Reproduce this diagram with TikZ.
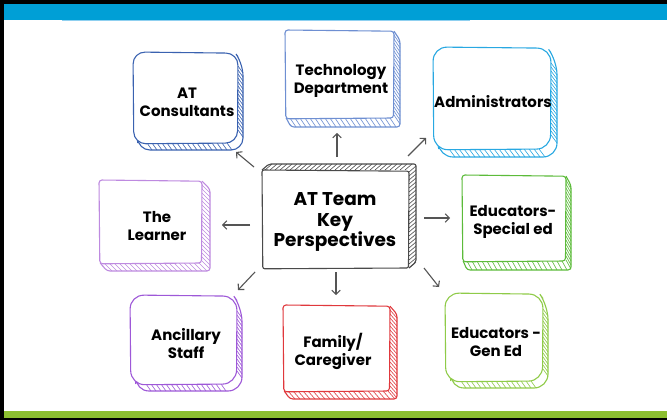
\documentclass[tikz,border=0pt]{standalone}
\usepackage{fontspec}
\setmainfont{Poppins}
\usetikzlibrary{arrows.meta}
\definecolor{topblue}{HTML}{009FD6}
\definecolor{botgreen}{HTML}{8CBF30}
\definecolor{thinblue}{HTML}{8FD0F0}
\definecolor{cConsult}{HTML}{3A62B0}
\definecolor{cTech}{HTML}{6E8FD2}
\definecolor{cAdmin}{HTML}{28A8E2}
\definecolor{cLearner}{HTML}{BE8AE0}
\definecolor{cCenter}{HTML}{4A4A4A}
\definecolor{cSpecial}{HTML}{5CBB3A}
\definecolor{cAncil}{HTML}{9E58D8}
\definecolor{cFamily}{HTML}{E0383C}
\definecolor{cGen}{HTML}{8FCB48}
\definecolor{arrowgray}{HTML}{555555}
% front face, slightly hand-drawn
\newcommand\frontface[5]{%
  \filldraw[fill=white] (#1,#2) -- (#3,#2+1.2) -- (#3-0.5,#4) -- (#1+0.8,#4+0.8) -- cycle;}
% band to the right and below
% #1 colour, #2 x1, #3 y1, #4 x2, #5 y2, #6 dx, #7 dy, #8 corner radius
\newcommand\sketchcard[8]{%
  \begin{scope}[draw=#1, line width=1.1pt, rounded corners=#8]
    \filldraw[fill=white] (#4,#3+#8*0.4) -- (#4+#6,#3+#8*0.4+#7) -- (#4+#6,#5+#7) -- (#2+#6,#5+#7) -- (#2+#8*0.4,#5);
    \pgfmathsetmacro\hya{#3+#8+2}\pgfmathsetmacro\hyb{#3+#8+6}\pgfmathsetmacro\hyc{#5-#8+2}
    \foreach \t in {\hya,\hyb,...,\hyc} \draw[line width=0.6pt] (#4,\t) -- ++(#6,#7);
    \pgfmathsetmacro\hxa{#2+#8+2}\pgfmathsetmacro\hxb{#2+#8+7}\pgfmathsetmacro\hxc{#4-#8+2}
    \foreach \s in {\hxa,\hxb,...,\hxc} \draw[line width=0.6pt] (\s,#5) -- ++(#6,#7);
    \frontface{#2}{#3}{#4}{#5}{}
  \end{scope}}
% band to the right and above
\newcommand\sketchcardup[8]{%
  \begin{scope}[draw=#1, line width=1.1pt, rounded corners=#8]
    \filldraw[fill=white] (#2,#3) -- (#2+#6,#3+#7) -- (#4+#6,#3+#7) -- (#4+#6,#5+#7) -- (#4,#5);
    \pgfmathsetmacro\hya{#3+2}\pgfmathsetmacro\hyb{#3+6}\pgfmathsetmacro\hyc{#5}
    \foreach \t in {\hya,\hyb,...,\hyc} \draw[line width=0.6pt] (#4,\t) -- ++(#6,#7);
    \pgfmathsetmacro\hxa{#2+3}\pgfmathsetmacro\hxb{#2+8}\pgfmathsetmacro\hxc{#4}
    \foreach \s in {\hxa,\hxb,...,\hxc} \draw[line width=0.6pt] (\s,#3) -- ++(#6,#7);
    \frontface{#2}{#3}{#4}{#5}{}
  \end{scope}}
\tikzset{
  lbl/.style={align=center, text=black, inner sep=0pt,
    font=\bfseries\fontsize{15}{18}\selectfont},
  bigl/.style={lbl, font=\bfseries\fontsize{18.5}{20.5}\selectfont},
  arr/.style={draw=arrowgray, line width=1.1pt, -{Straight Barb[length=4pt,width=8.5pt]}}
}
\begin{document}
\begin{tikzpicture}[x=1pt,y=-1pt]
\useasboundingbox (0,0) rectangle (667,420);
% frame
\fill[black] (0,0) rectangle (667,420);
\fill[white] (4,4) rectangle (667,418);
\fill[topblue] (4,4) rectangle (667,20);
\draw[thinblue, line width=0.8pt] (62,20.6) -- (470,20.6);
\fill[botgreen] (4,411) rectangle (667,418);

% cards
\sketchcard{cConsult}{133}{52}{238}{143}{5}{7}{12}
\node[lbl] (cons) at (187,102) {AT\\Consultants};

\sketchcard{cTech}{285}{30}{394}{118}{6}{9}{3}
\node[lbl] (tech) at (341,81) {Technology\\Department};

\sketchcard{cAdmin}{433}{47}{551}{149}{6}{8}{14}
\node[lbl] (admin) at (493,102) {Administrators};

\sketchcard{cLearner}{99}{180}{202}{263}{8}{8}{3}
\node[lbl] (learner) at (157,226) {The\\Learner};

\sketchcardup{cCenter}{262}{170}{409}{268}{7}{-6}{2}
\node[bigl] (center) at (335,222) {AT Team\\Key\\Perspectives};

\sketchcard{cSpecial}{462}{175}{566}{261}{5}{9}{3}
\node[lbl] (special) at (513,222) {Educators-\\Special ed};

\sketchcard{cAncil}{130}{295}{237}{384}{5}{7}{14}
\node[lbl] (ancil) at (186,344) {Ancillary\\Staff};

\sketchcard{cFamily}{283}{305}{390}{391}{7}{8}{3}
\node[lbl] (family) at (333,351) {Family/\\Caregiver};

\sketchcard{cGen}{445}{293}{543}{381}{5}{7}{14}
\node[lbl] (gen) at (496,342) {Educators -\\Gen Ed};

% arrow end points
\coordinate (aUs) at (337,157); \coordinate (aUe) at (337,133);
\coordinate (aULs) at (254,167); \coordinate (aULe) at (236,152);
\coordinate (aURs) at (408,156); \coordinate (aURe) at (426,138);
\coordinate (aLs) at (250,225); \coordinate (aLe) at (222,225);
\coordinate (aRs) at (424,218); \coordinate (aRe) at (450,218);
\coordinate (aDs) at (336,272); \coordinate (aDe) at (336,295);
\coordinate (aDLs) at (255,272); \coordinate (aDLe) at (238,290);
\coordinate (aDRs) at (424,268); \coordinate (aDRe) at (439,287);
\draw[arr] (aUs) -- (aUe);
\draw[arr] (aULs) -- (aULe);
\draw[arr] (aURs) -- (aURe);
\draw[arr] (aLs) -- (aLe);
\draw[arr] (aRs) -- (aRe);
\draw[arr] (aDs) -- (aDe);
\draw[arr] (aDLs) -- (aDLe);
\draw[arr] (aDRs) -- (aDRe);
\end{tikzpicture}
\end{document}
